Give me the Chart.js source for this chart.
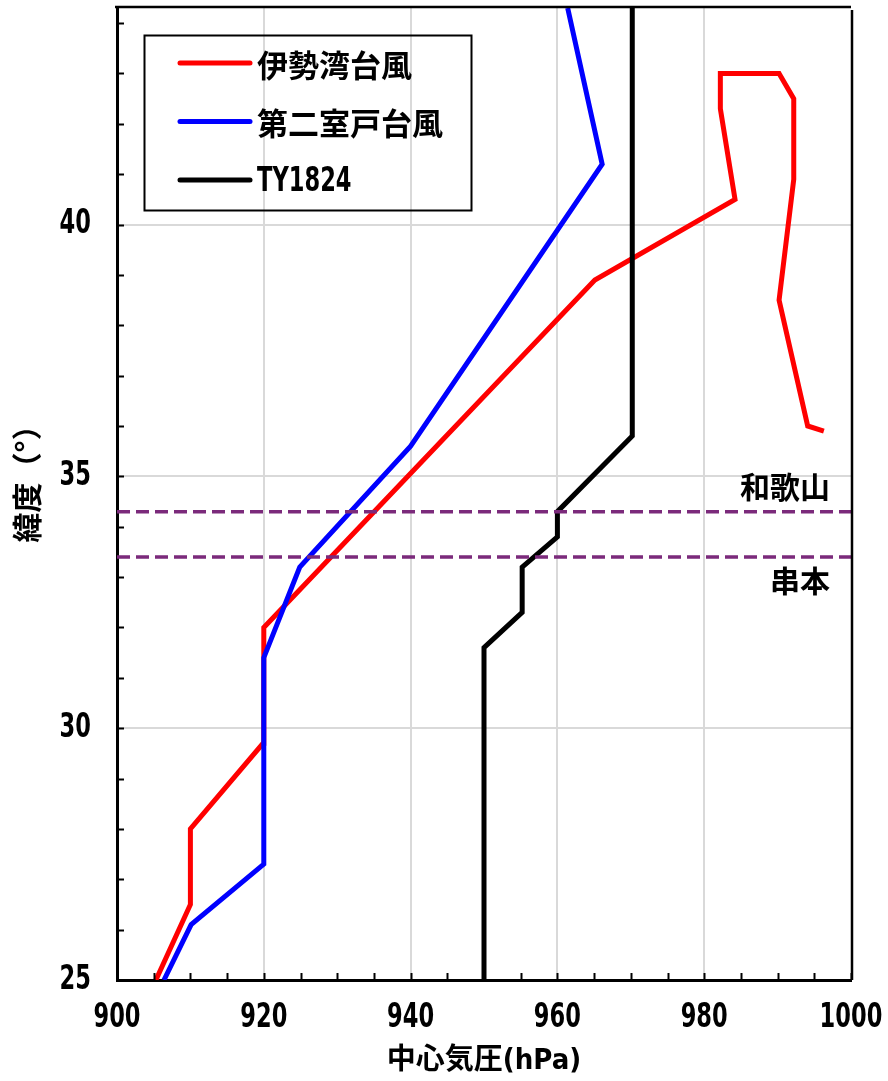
<!DOCTYPE html>
<html>
<head>
<meta charset="utf-8">
<script src="https://cdn.jsdelivr.net/npm/chart.js@4.4.1/dist/chart.umd.min.js"></script>
<style>
    html, body { margin: 0; padding: 0; background: #fff; }
    #wrap { width: 888px; height: 1081px; }
</style>
</head>
<body>
<div id="wrap"><canvas id="chart-pressure"></canvas></div>
<script>
// series: central pressure (hPa) vs latitude (deg)
const isewanP   = [905.3, 910.0, 910.0, 919.9, 920.0, 965.1, 984.2, 982.2, 982.2, 990.2, 992.2, 992.2, 990.2, 994.1, 996.3];
const isewanLat = [25.0, 26.5, 28.0, 29.7, 32.0, 38.9, 40.5, 42.3, 43.0, 43.0, 42.5, 40.9, 38.5, 36.0, 35.9];

const muroto2P   = [906.4, 910.1, 920.0, 920.0, 924.9, 940.0, 966.1, 961.4];
const muroto2Lat = [25.0, 26.1, 27.3, 31.4, 33.2, 35.6, 41.2, 44.3];

const ty1824P   = [950.0, 950.0, 955.2, 955.2, 960.0, 960.0, 970.2, 970.2];
const ty1824Lat = [25.0, 31.6, 32.3, 33.2, 33.8, 34.3, 35.8, 44.3];

const seriesNames = ['伊勢湾台風', '第二室戸台風', 'TY1824'];
const seriesColors = ['#ff0000', '#0000ff', '#000000'];

const stationNames = ['和歌山', '串本'];
const stationLat = [34.3, 33.4];

const xTicks = [900, 920, 940, 960, 980, 1000];
const yTicks = [25, 30, 35, 40];
const xTitle = '中心気圧(hPa)';
const yTitle = '緯度（°）';

const numFont = "'DejaVu Sans Condensed', 'Noto Sans CJK JP'";
const jpFont = "'Noto Sans CJK JP', 'DejaVu Sans Condensed'";

function toPoints(xs, ys) {
    return xs.map((x, i) => ({x: x, y: ys[i]}));
}

// half-width text in the reference is much narrower than any installed font
function narrowText(ctx, text, x, y, align) {
    ctx.save();
    ctx.translate(x, y);
    ctx.scale(0.76, 1);
    ctx.textAlign = align;
    ctx.fillText(text, 0, 0);
    ctx.restore();
}

let datasets = [
    {label: seriesNames[0], data: toPoints(isewanP, isewanLat), borderColor: seriesColors[0], order: 3},
    {label: seriesNames[1], data: toPoints(muroto2P, muroto2Lat), borderColor: seriesColors[1], order: 2},
    {label: seriesNames[2], data: toPoints(ty1824P, ty1824Lat), borderColor: seriesColors[2], order: 1},
].map(d => Object.assign(d, {
    showLine: true,
    borderWidth: 5,
    pointRadius: 0,
    tension: 0,
    borderJoinStyle: 'miter',
}));

stationLat.forEach((lat, i) => {
    datasets.push({
        label: stationNames[i],
        data: toPoints([900, 1000], [lat, lat]),
        showLine: true,
        borderColor: '#7b2a7b',
        borderWidth: 3.5,
        borderDash: [13, 6],
        pointRadius: 0,
        order: 0,
    });
});

// inner minor ticks, tick labels, frame, station labels and legend box
const decorations = {
    id: 'decorations',
    afterDraw(chart) {
        const ctx = chart.ctx;
        const area = chart.chartArea;
        const xs = chart.scales.x;
        const ys = chart.scales.y;

        ctx.save();
        ctx.strokeStyle = '#000';
        ctx.lineWidth = 2;
        ys.ticks.forEach(t => {
            if (!Number.isInteger(t.value)) return;
            let py = Math.round(ys.getPixelForValue(t.value)) + 0.5;
            ctx.beginPath();
            ctx.moveTo(area.left, py);
            ctx.lineTo(area.left + 7, py);
            ctx.stroke();
        });
        xs.ticks.forEach(t => {
            let px = Math.round(xs.getPixelForValue(t.value)) + 0.5;
            ctx.beginPath();
            ctx.moveTo(px, area.bottom);
            ctx.lineTo(px, area.bottom - 7);
            ctx.stroke();
        });

        // top and right frame
        ctx.lineWidth = 2.5;
        ctx.beginPath();
        ctx.moveTo(area.left - 2, area.top - 1);
        ctx.lineTo(area.right, area.top - 1);
        ctx.moveTo(area.right + 1, area.top + 2);
        ctx.lineTo(area.right + 1, area.bottom);
        ctx.stroke();

        // tick labels
        ctx.fillStyle = '#000';
        ctx.textBaseline = 'middle';
        ctx.font = 'bold 33px ' + numFont;
        yTicks.forEach(v => {
            narrowText(ctx, String(v), area.left - 26, ys.getPixelForValue(v), 'right');
        });
        xTicks.forEach(v => {
            narrowText(ctx, String(v), xs.getPixelForValue(v), area.bottom + 38, 'center');
        });

        // y title, rotated
        ctx.save();
        ctx.translate(27, ys.getPixelForValue(35.0));
        ctx.rotate(-Math.PI / 2);
        ctx.font = 'bold 30px ' + jpFont;
        ctx.textAlign = 'center';
        ctx.fillText(yTitle, 0, 0);
        ctx.restore();

        // station names
        ctx.font = 'bold 30px ' + jpFont;
        ctx.textAlign = 'right';
        stationLat.forEach((lat, i) => {
            let py = ys.getPixelForValue(lat);
            let offset = i === 0 ? -25 : 24;
            ctx.fillText(stationNames[i], area.right - 21, py + offset);
        });

        // legend
        let boxLeft = area.left + 27;
        let boxTop = area.top + 27;
        ctx.lineWidth = 2;
        ctx.strokeRect(boxLeft + 0.5, boxTop + 0.5, 327, 175);
        ctx.lineCap = 'round';
        seriesNames.forEach((name, i) => {
            let rowY = boxTop + 28 + i * 58.5;
            ctx.strokeStyle = seriesColors[i];
            ctx.lineWidth = 5;
            ctx.beginPath();
            ctx.moveTo(boxLeft + 36, rowY);
            ctx.lineTo(boxLeft + 106, rowY);
            ctx.stroke();
            if (/^[\x00-\x7f]+$/.test(name)) {
                ctx.font = 'bold 33px ' + numFont;
                narrowText(ctx, name, boxLeft + 113, rowY + 2, 'left');
            } else {
                ctx.font = 'bold 31px ' + jpFont;
                ctx.textAlign = 'left';
                ctx.fillText(name, boxLeft + 113, rowY + 2);
            }
        });
        ctx.restore();
    },
};

new Chart(document.getElementById('chart-pressure'), {
    type: 'scatter',
    data: {datasets: datasets},
    options: {
        responsive: true,
        maintainAspectRatio: false,
        animation: false,
        layout: {
            padding: {left: 0, top: 8, right: 37, bottom: 0},
        },
        plugins: {
            legend: {display: false},
            tooltip: {enabled: false},
        },
        scales: {
            x: {
                type: 'linear',
                min: 900,
                max: 1000,
                afterFit: scale => {
                    scale.height = 101;
                    scale.paddingLeft = 0;
                    scale.paddingRight = 0;
                },
                ticks: {
                    stepSize: 5,
                    display: false,
                    autoSkip: false,
                },
                grid: {
                    drawTicks: false,
                    lineWidth: 2,
                    color: c => (c.tick && xTicks.includes(c.tick.value) && c.tick.value !== 900 && c.tick.value !== 1000) ? '#d9d9d9' : 'rgba(0,0,0,0)',
                },
                border: {color: '#000', width: 3},
                title: {
                    display: true,
                    text: xTitle,
                    color: '#000',
                    font: {family: numFont, size: 29, weight: 'bold'},
                    padding: {top: 0, bottom: 2},
                },
            },
            y: {
                type: 'linear',
                min: 25,
                max: 44.3,
                afterFit: scale => {
                    scale.width = 117;
                    scale.paddingTop = 0;
                    scale.paddingBottom = 0;
                },
                ticks: {
                    stepSize: 1,
                    display: false,
                    autoSkip: false,
                },
                grid: {
                    drawTicks: false,
                    lineWidth: 2,
                    color: c => (c.tick && yTicks.includes(c.tick.value) && c.tick.value !== 25) ? '#d9d9d9' : 'rgba(0,0,0,0)',
                },
                border: {color: '#000', width: 3},
            },
        },
    },
    plugins: [decorations],
});
</script>
</body>
</html>
